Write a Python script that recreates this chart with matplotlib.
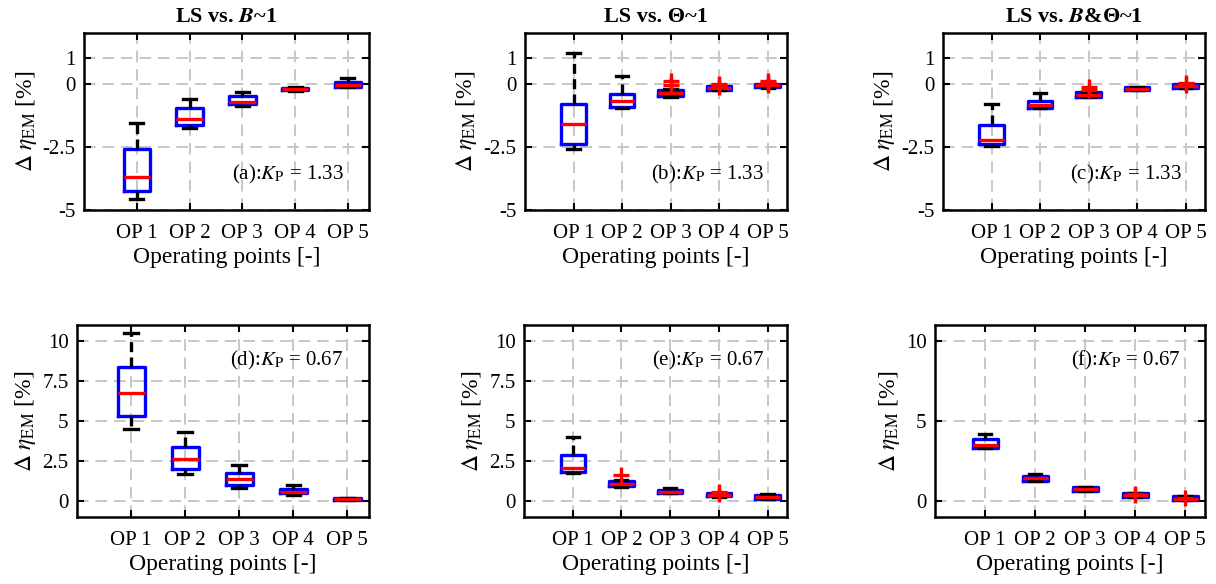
import matplotlib
matplotlib.use("Agg")
import matplotlib.pyplot as plt

plt.rcParams['font.family'] = ['Liberation Serif', 'DejaVu Serif']
plt.rcParams['mathtext.fontset'] = 'stix'

categories = ["OP 1", "OP 2", "OP 3", "OP 4", "OP 5"]

# (a) LS vs. B~1, Kp = 1.33
a_q1 = [-4.23, -1.64, -0.81, -0.26, -0.13]
a_med = [-3.69, -1.40, -0.71, -0.23, -0.07]
a_q3 = [-2.57, -0.98, -0.50, -0.19, 0.06]
a_lo = [-4.58, -1.75, -0.87, -0.28, -0.15]
a_hi = [-1.55, -0.60, -0.32, -0.15, 0.21]
a_fl = [[], [], [], [], []]

# (b) LS vs. Theta~1, Kp = 1.33
b_q1 = [-2.38, -0.93, -0.50, -0.24, -0.15]
b_med = [-1.60, -0.69, -0.38, -0.17, -0.07]
b_q3 = [-0.79, -0.41, -0.24, -0.08, 0.00]
b_lo = [-2.59, -0.98, -0.52, -0.26, -0.17]
b_hi = [1.19, 0.29, -0.22, -0.06, 0.00]
b_fl = [[], [], [0.12, -0.05], [-0.04, -0.12, 0.0], [0.03, 0.10, -0.05]]

# (c) LS vs. B&Theta~1, Kp = 1.33
c_q1 = [-2.38, -0.97, -0.53, -0.25, -0.16]
c_med = [-2.24, -0.86, -0.44, -0.21, -0.09]
c_q3 = [-1.64, -0.67, -0.34, -0.15, -0.03]
c_lo = [-2.45, -0.98, -0.55, -0.26, -0.17]
c_hi = [-0.81, -0.38, -0.32, -0.12, -0.02]
c_fl = [[], [], [-0.24, -0.13], [], [-0.05, 0.02]]

# (d) LS vs. B~1, Kp = 0.67
d_q1 = [5.33, 2.01, 1.01, 0.47, 0.06]
d_med = [6.74, 2.64, 1.35, 0.59, 0.12]
d_q3 = [8.35, 3.38, 1.73, 0.78, 0.19]
d_lo = [4.50, 1.71, 0.82, 0.36, 0.05]
d_hi = [10.53, 4.29, 2.26, 0.99, 0.20]
d_fl = [[], [], [], [], []]

# (e) LS vs. Theta~1, Kp = 0.67
e_q1 = [1.82, 0.91, 0.49, 0.30, 0.11]
e_med = [2.09, 1.08, 0.59, 0.40, 0.23]
e_q3 = [2.88, 1.23, 0.70, 0.51, 0.36]
e_lo = [1.75, 0.88, 0.47, 0.28, 0.10]
e_hi = [4.02, 1.29, 0.82, 0.53, 0.44]
e_fl = [[], [1.61], [], [0.59, 0.45], []]

# (f) LS vs. B&Theta~1, Kp = 0.67
f_q1 = [3.32, 1.27, 0.63, 0.27, 0.06]
f_med = [3.51, 1.42, 0.74, 0.38, 0.15]
f_q3 = [3.85, 1.56, 0.87, 0.51, 0.30]
f_lo = [3.30, 1.25, 0.62, 0.25, 0.05]
f_hi = [4.19, 1.69, 0.90, 0.52, 0.31]
f_fl = [[], [], [], [0.44, 0.36], [0.20]]

titles = [r"LS vs. $\mathbfit{B}$~1", "LS vs. Θ~1", r"LS vs. $\mathbfit{B}$&Θ~1"]
labels_top = ["(a)", "(b)", "(c)"]
labels_bot = ["(d)", "(e)", "(f)"]
kp_top = "1.33"
kp_bot = "0.67"

top_yticks = [-5, -2.5, 0, 1]
top_yticklabels = ["-5", "-2.5", "0", "1"]
bot_yticks = [0, 2.5, 5, 7.5, 10]
bot_yticklabels = ["0", "2.5", "5", "7.5", "10"]
f_yticks = [0, 5, 10]
f_yticklabels = ["0", "5", "10"]

panels = [
    (a_q1, a_med, a_q3, a_lo, a_hi, a_fl),
    (b_q1, b_med, b_q3, b_lo, b_hi, b_fl),
    (c_q1, c_med, c_q3, c_lo, c_hi, c_fl),
    (d_q1, d_med, d_q3, d_lo, d_hi, d_fl),
    (e_q1, e_med, e_q3, e_lo, e_hi, e_fl),
    (f_q1, f_med, f_q3, f_lo, f_hi, f_fl),
]

W, H = 1216, 584
rects_px = [
    (84, 33, 369, 210), (525, 33, 787, 210), (943, 33, 1205, 210),
    (77, 325, 369, 517), (524, 325, 787, 517), (935, 325, 1205, 517),
]

fig = plt.figure(figsize=(W / 100, H / 100), dpi=100)

for i, (data, (l, t, r, b)) in enumerate(zip(panels, rects_px)):
    ax = fig.add_axes([l / W, 1 - b / H, (r - l) / W, (b - t) / H])
    q1, med, q3, lo, hi, fl = data
    stats = []
    for k in range(len(categories)):
        stats.append(dict(med=med[k], q1=q1[k], q3=q3[k], whislo=lo[k],
                          whishi=hi[k], fliers=fl[k], label=categories[k]))
    ax.set_axisbelow(True)
    ax.grid(True, color='0.78', linestyle=(0, (6, 3.5)), linewidth=1.4)
    ax.bxp(stats, positions=range(1, 6), widths=0.5, capwidths=0.25,
           boxprops=dict(color='blue', linewidth=2.4),
           medianprops=dict(color='red', linewidth=2.4),
           whiskerprops=dict(color='black', linewidth=2.4, linestyle=(0, (3, 1.6))),
           capprops=dict(color='black', linewidth=2.4),
           flierprops=dict(marker='+', markeredgecolor='red', markersize=11,
                           markeredgewidth=2.4, linestyle='none'))
    ax.set_xlim(0, 5.4)
    ax.set_xticks(range(1, 6))
    ax.set_xticklabels(categories)
    if i < 3:
        ax.set_ylim(-5, 2)
        ax.set_yticks(top_yticks)
        ax.set_yticklabels(top_yticklabels)
        ax.set_title(titles[i], fontsize=16, fontweight='bold', pad=8)
        ax.text(4.92, -3.81, labels_top[i] + r":$K_{\mathrm{P}}$ = " + kp_top,
                ha='right', va='baseline', fontsize=15)
    else:
        ax.set_ylim(-1, 11)
        if i == 5:
            ax.set_yticks(f_yticks)
            ax.set_yticklabels(f_yticklabels)
        else:
            ax.set_yticks(bot_yticks)
            ax.set_yticklabels(bot_yticklabels)
        ax.text(4.92, 8.48, labels_bot[i - 3] + r":$K_{\mathrm{P}}$ = " + kp_bot,
                ha='right', va='baseline', fontsize=15)
    ax.set_xlabel("Operating points [-]", fontsize=17, labelpad=3)
    ax.set_ylabel(r"$\Delta\ \eta_{\mathrm{EM}}$ [%]", fontsize=17, labelpad=3)
    ax.tick_params(direction='in', length=5, width=1.5, labelsize=15,
                   top=True, right=True, pad=6)
    ax.tick_params(axis='x', pad=10)
    for s in ax.spines.values():
        s.set_linewidth(1.8)

fig.savefig("out.png", dpi=100)
